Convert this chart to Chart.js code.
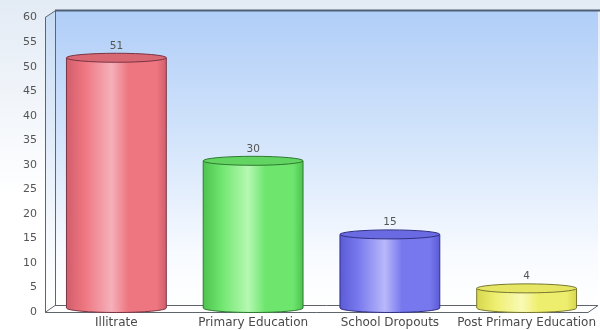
<!DOCTYPE html>
<html>
<head>
<meta charset="utf-8">
<script src="https://cdn.jsdelivr.net/npm/chart.js@4"></script>
<style>
  html, body { margin: 0; padding: 0; background: #fff; }
  #wrap { width: 600px; height: 330px; }
</style>
</head>
<body>
<div id="wrap"><canvas id="chart" width="600" height="330"></canvas></div>
<script>
// data
var categories = ["Illitrate", "Primary Education", "School Dropouts", "Post Primary Education"];
var values = [51, 30, 15, 4];
var yMin = 0, yMax = 60, yStep = 5;

// cylinder colours: edge, body, highlight, top, outline
var barColors = [
    ["#d25e6c", "#ee7680", "#f5b0ba", "#d86874", "#7a3442"],
    ["#4fc24f", "#6ee66e", "#b6f8b2", "#62d462", "#2f7a32"],
    ["#5b5bd6", "#7878ee", "#b8b8fa", "#6a6ae2", "#303082"],
    ["#d6d64e", "#eeee6e", "#fafab6", "#e6e664", "#77772e"]
];

var DX = 10, DY = 7; // depth of the fake 3d box

var boxPlugin = {
    id: 'box',
    beforeDraw: function (chart) {
        var c = chart.ctx, a = chart.chartArea;
        var fl = Math.round(a.left) - 3, fr = Math.round(a.right) - 7, top = a.top, bot = Math.round(a.bottom);
        c.save();
        // faint page gradient
        var g0 = c.createLinearGradient(0, 0, 0, chart.height);
        g0.addColorStop(0, '#e3ebf5');
        g0.addColorStop(0.6, '#ffffff');
        c.fillStyle = g0;
        c.fillRect(0, 0, chart.width, chart.height);
        // back wall
        var g = c.createLinearGradient(0, top - DY, 0, bot - DY);
        g.addColorStop(0, '#b0cef8');
        g.addColorStop(0.45, '#d4e5fb');
        g.addColorStop(0.82, '#f7faff');
        g.addColorStop(1, '#ffffff');
        c.fillStyle = g;
        c.fillRect(fl + DX, top - DY, fr - fl, bot - top);
        // left wall
        var g2 = c.createLinearGradient(0, top, 0, bot);
        g2.addColorStop(0, '#c8dcf4');
        g2.addColorStop(0.7, '#f4f8fd');
        g2.addColorStop(1, '#ffffff');
        c.fillStyle = g2;
        c.beginPath();
        c.moveTo(fl, top); c.lineTo(fl + DX, top - DY); c.lineTo(fl + DX, bot - DY); c.lineTo(fl, bot);
        c.closePath(); c.fill();
        // floor
        c.fillStyle = '#ffffff';
        c.beginPath();
        c.moveTo(fl, bot); c.lineTo(fl + DX, bot - DY); c.lineTo(fr + DX, bot - DY); c.lineTo(fr, bot);
        c.closePath(); c.fill();
        // outlines
        c.strokeStyle = '#5f656d';
        c.lineWidth = 1;
        c.beginPath();
        c.moveTo(fl + 0.5, top); c.lineTo(fl + 0.5, bot + 0.5); c.lineTo(fr, bot + 0.5); c.lineTo(fr + DX, bot - DY + 0.5);
        c.moveTo(fl, top); c.lineTo(fl + DX + 0.5, top - DY); c.lineTo(fl + DX + 0.5, bot - DY + 0.5);
        c.moveTo(fl, bot + 0.5); c.lineTo(fl + DX, bot - DY + 0.5); c.lineTo(fr + DX, bot - DY + 0.5);
        c.stroke();
        c.strokeStyle = '#4e5f72';
        c.lineWidth = 2;
        c.beginPath();
        c.moveTo(fl + DX, top - DY); c.lineTo(fr + DX + 2, top - DY);
        c.stroke();
        c.restore();
    },
    afterDatasetsDraw: function (chart) {
        var c = chart.ctx;
        var meta = chart.getDatasetMeta(0);
        c.save();
        meta.data.forEach(function (bar, i) {
            var col = barColors[i];
            var w = bar.width, x0 = bar.x - w / 2, x1 = bar.x + w / 2;
            var yt = bar.y - 4, yb = bar.base - 4, ry = 4.5, rx = w / 2;
            var g = c.createLinearGradient(x0, 0, x1, 0);
            g.addColorStop(0, col[0]);
            g.addColorStop(0.18, col[1]);
            g.addColorStop(0.45, col[2]);
            g.addColorStop(0.62, col[1]);
            g.addColorStop(0.9, col[1]);
            g.addColorStop(1, col[0]);
            // body + bottom half ellipse
            c.fillStyle = g;
            c.beginPath();
            c.moveTo(x0, yt);
            c.lineTo(x0, yb);
            c.ellipse(bar.x, yb, rx, ry, 0, Math.PI, 0, true);
            c.lineTo(x1, yt);
            c.closePath();
            c.fill();
            c.strokeStyle = col[4];
            c.lineWidth = 1;
            c.stroke();
            // top cap
            c.beginPath();
            c.ellipse(bar.x, yt, rx, ry, 0, 0, Math.PI * 2);
            c.fillStyle = col[3];
            c.fill();
            c.strokeStyle = col[4];
            c.stroke();
            // value label
            c.fillStyle = '#555';
            c.font = '10.5px "DejaVu Sans", sans-serif';
            c.textAlign = 'center';
            c.textBaseline = 'bottom';
            c.fillText(String(values[i]), bar.x, yt - ry - 2);
        });
        c.restore();
    }
};

var ctx = document.querySelector('#chart').getContext('2d');
var chart = new Chart(ctx, {
    type: 'bar',
    data: {
        labels: categories,
        datasets: [{
            data: values,
            backgroundColor: 'rgba(0,0,0,0)',
            borderWidth: 0,
            barPercentage: 0.73,
            categoryPercentage: 1
        }]
    },
    options: {
        responsive: false,
        animation: false,
        layout: { padding: { top: 12, right: 5, left: 23, bottom: 1 } },
        plugins: { legend: { display: false }, tooltip: { enabled: false } },
        scales: {
            x: {
                grid: { display: false, drawTicks: false },
                border: { display: false },
                ticks: { color: '#4a4a4a', font: { family: 'DejaVu Sans', size: 12 }, padding: 4, autoSkip: false, maxRotation: 0 },
                afterFit: function (s) { s.paddingLeft = 0; s.paddingRight = 0; s.height = 17; }
            },
            y: {
                min: yMin, max: yMax,
                grid: { display: false, drawTicks: false },
                border: { display: false },
                ticks: { stepSize: yStep, color: '#555', font: { family: 'DejaVu Sans', size: 11 }, padding: 11 },
                afterFit: function (s) { s.width = 25; }
            }
        }
    },
    plugins: [boxPlugin]
});
</script>
</body>
</html>
